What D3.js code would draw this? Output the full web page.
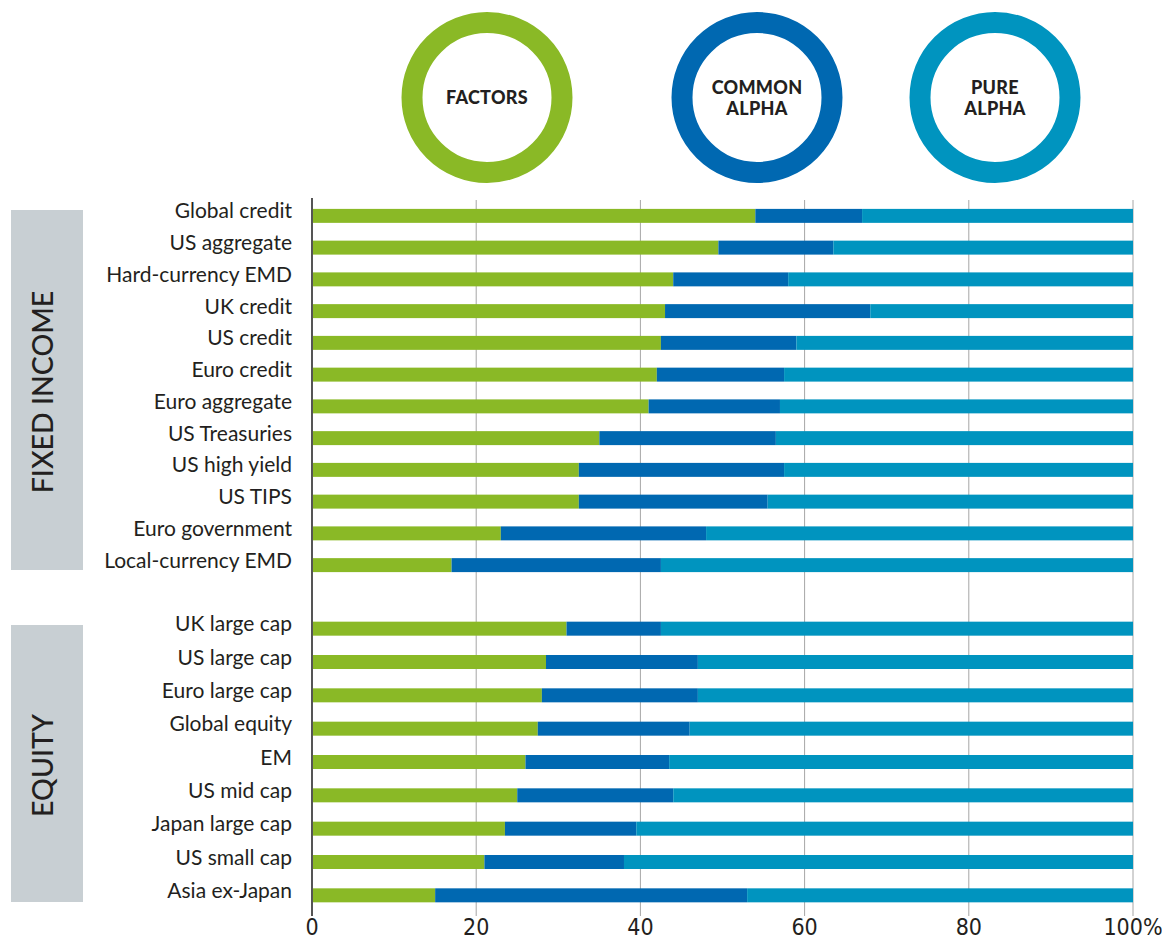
<!DOCTYPE html>
<html>
<head>
<meta charset="utf-8">
<script src="https://cdn.jsdelivr.net/npm/d3@7"></script>
<style>
  body { margin: 0; background: #fff; }
  svg { display: block; }
</style>
</head>
<body>
<div id="root"></div>
<script>
// categories, top to bottom
var fixedIncome = ["Global credit", "US aggregate", "Hard-currency EMD", "UK credit", "US credit",
  "Euro credit", "Euro aggregate", "US Treasuries", "US high yield", "US TIPS",
  "Euro government", "Local-currency EMD"];
var equity = ["UK large cap", "US large cap", "Euro large cap", "Global equity", "EM",
  "US mid cap", "Japan large cap", "US small cap", "Asia ex-Japan"];

// shares in % (fixed income first, then equity)
var factors     = [54, 49.5, 44, 43, 42.5, 42, 41, 35, 32.5, 32.5, 23, 17,
                   31, 28.5, 28, 27.5, 26, 25, 23.5, 21, 15];
var commonAlpha = [13, 14, 14, 25, 16.5, 15.5, 16, 21.5, 25, 23, 25, 25.5,
                   11.5, 18.5, 19, 18.5, 17.5, 19, 16, 17, 38];
var pureAlpha   = [33, 36.5, 42, 32, 41, 42.5, 43, 43.5, 42.5, 44.5, 52, 57.5,
                   57.5, 53, 53, 54, 56.5, 56, 60.5, 62, 47];

var seriesNames = ["FACTORS", "COMMON ALPHA", "PURE ALPHA"];
var xTicks = [0, 20, 40, 60, 80, 100];

var colors = ["#8ab926", "#0068b1", "#0094bf"];
var ink = "#231f20";

var w = 1162, h = 940;
var svg = d3.select("#root").append("svg").attr("width", w).attr("height", h);

var x = d3.scaleLinear().domain([0, 100]).range([312, 1133]);

// one band scale per group
var yFI = d3.scaleBand().domain(fixedIncome).range([200, 581]).paddingInner(0.56).paddingOuter(0.28);
var yEQ = d3.scaleBand().domain(equity).range([612, 912]).paddingInner(0.58).paddingOuter(0.29);

var rows = fixedIncome.map(function(d) { return { name: d, y: yFI, group: "fi" }; })
  .concat(equity.map(function(d) { return { name: d, y: yEQ, group: "eq" }; }));
rows.forEach(function(r, i) {
  r["FACTORS"] = factors[i];
  r["COMMON ALPHA"] = commonAlpha[i];
  r["PURE ALPHA"] = pureAlpha[i];
});

// legend rings
var ringX = [487, 757, 995];
var legend = svg.selectAll("g.ring").data(seriesNames).enter().append("g")
  .attr("class", "ring")
  .attr("transform", function(d, i) { return "translate(" + ringX[i] + ",97.5)"; });
legend.append("circle").attr("r", 75).attr("fill", "none")
  .attr("stroke", function(d, i) { return colors[i]; }).attr("stroke-width", 21);
legend.each(function(d) {
  var words = d.split(" ");
  var g = d3.select(this);
  words.forEach(function(wd, j) {
    g.append("text")
      .attr("text-anchor", "middle")
      .attr("y", (j - (words.length - 1) / 2) * 21 + 6.5)
      .style("font-family", "Lato, 'Open Sans', sans-serif")
      .style("font-weight", 900)
      .style("font-size", "18px")
      .style("letter-spacing", "0.3px")
      .attr("fill", ink)
      .text(wd);
  });
});

// group panels
var panels = [
  { label: "FIXED INCOME", y0: 210, y1: 570 },
  { label: "EQUITY", y0: 625, y1: 902 }
];
svg.selectAll("rect.panel").data(panels).enter().append("rect")
  .attr("class", "panel")
  .attr("x", 11).attr("width", 72)
  .attr("y", function(d) { return d.y0; })
  .attr("height", function(d) { return d.y1 - d.y0; })
  .attr("fill", "#c8cfd3");
svg.selectAll("text.panel").data(panels).enter().append("text")
  .attr("class", "panel")
  .attr("transform", function(d) { return "translate(53," + ((d.y0 + d.y1) / 2 + 2) + ") rotate(-90)"; })
  .attr("text-anchor", "middle")
  .style("font-family", "Lato, sans-serif")
  .style("font-weight", 500)
  .style("font-size", "28.5px")
  .attr("fill", ink)
  .text(function(d) { return d.label; });

// gridlines
svg.selectAll("line.grid").data(xTicks.slice(1)).enter().append("line")
  .attr("class", "grid")
  .attr("x1", function(d) { return x(d); }).attr("x2", function(d) { return x(d); })
  .attr("y1", 200).attr("y2", 916)
  .attr("stroke", "#a6a6a6").attr("stroke-width", 1);

// stacked bars
var stack = d3.stack().keys(seriesNames);
var layers = stack(rows);
svg.selectAll("g.layer").data(layers).enter().append("g")
  .attr("class", "layer")
  .attr("fill", function(d, i) { return colors[i]; })
  .selectAll("rect").data(function(d) { return d; }).enter().append("rect")
  .attr("x", function(d) { return x(d[0]); })
  .attr("width", function(d) { return x(d[1]) - x(d[0]); })
  .attr("y", function(d) { return d.data.y(d.data.name); })
  .attr("height", function(d) { return d.data.y.bandwidth(); });

// category labels
svg.selectAll("text.cat").data(rows).enter().append("text")
  .attr("class", "cat")
  .attr("x", 292)
  .attr("y", function(d) { return d.y(d.name) + d.y.bandwidth() / 2 + 2.5; })
  .attr("text-anchor", "end")
  .style("font-family", "Lato, sans-serif")
  .style("font-size", "21px")
  .attr("fill", ink)
  .text(function(d) { return d.name; });

// axis line at zero
svg.append("line")
  .attr("x1", x(0)).attr("x2", x(0)).attr("y1", 198).attr("y2", 916)
  .attr("stroke", "#555").attr("stroke-width", 2);

// x tick labels
svg.selectAll("text.tick").data(xTicks).enter().append("text")
  .attr("class", "tick")
  .attr("x", function(d) { return x(d); })
  .attr("y", 935)
  .attr("text-anchor", "middle")
  .style("font-family", "'Liberation Sans Narrow', 'DejaVu Sans Condensed', sans-serif")
  .style("font-size", "23px")
  .attr("fill", ink)
  .text(function(d) { return d === 100 ? "100%" : d; });
</script>
</body>
</html>
